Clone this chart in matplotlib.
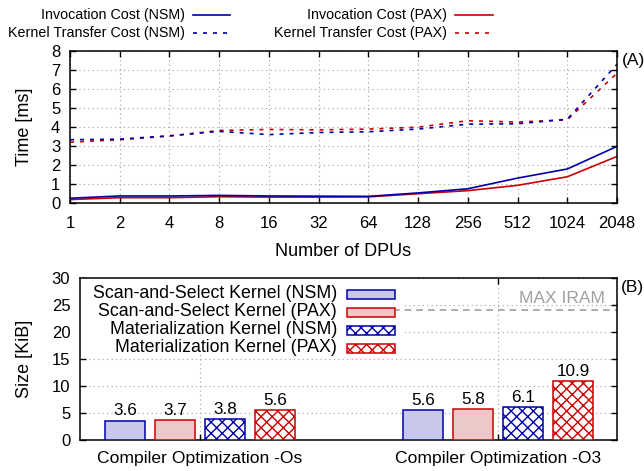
import matplotlib
matplotlib.use("Agg")
import matplotlib.pyplot as plt
from matplotlib import font_manager
from matplotlib.patches import Rectangle
from matplotlib.lines import Line2D
import numpy as np

plt.rcParams['font.family'] = ['Liberation Sans', 'DejaVu Sans']
plt.rcParams['font.size'] = 12.5
plt.rcParams['xtick.labelsize'] = 12
plt.rcParams['ytick.labelsize'] = 12
plt.rcParams['axes.labelsize'] = 13
plt.rcParams['hatch.linewidth'] = 1.0

# ---------------- data ----------------
dpus = [1, 2, 4, 8, 16, 32, 64, 128, 256, 512, 1024, 2048]
dpu_labels = [str(d) for d in dpus]
invocation_nsm = [0.25, 0.37, 0.37, 0.40, 0.37, 0.36, 0.35, 0.53, 0.75, 1.31, 1.79, 2.98]
invocation_pax = [0.18, 0.28, 0.28, 0.33, 0.31, 0.31, 0.32, 0.49, 0.65, 0.93, 1.38, 2.45]
transfer_nsm = [3.33, 3.36, 3.54, 3.77, 3.60, 3.71, 3.75, 3.89, 4.15, 4.17, 4.41, 7.30]
transfer_pax = [3.20, 3.33, 3.52, 3.82, 3.87, 3.85, 3.89, 3.99, 4.33, 4.26, 4.38, 6.83]

groups = ['Compiler Optimization -Os', 'Compiler Optimization -O3']
kernel_names = ['Scan-and-Select Kernel (NSM)', 'Scan-and-Select Kernel (PAX)',
                'Materialization Kernel (NSM)', 'Materialization Kernel (PAX)']
kernel_sizes = [[3.6, 5.6], [3.7, 5.8], [3.8, 6.1], [5.6, 10.9]]
max_iram = 24

BLUE = '#0000aa'
RED = '#cc0000'
GRID = '#a0a0a0'

# narrow font for the top key if available
names = {f.name for f in font_manager.fontManager.ttflist}
if 'Liberation Sans Narrow' in names:
    key_font = dict(family=['Liberation Sans Narrow', 'DejaVu Sans'], size=12.2)
else:
    key_font = dict(family=['Liberation Sans', 'DejaVu Sans'], size=10.3)

fig = plt.figure(figsize=(6.44, 4.71), dpi=100)
W, H = 644, 471

def axes_px(l, t, r, b):
    return fig.add_axes([l / W, 1 - b / H, (r - l) / W, (b - t) / H])

# ---------------- top chart ----------------
ax1 = axes_px(70, 51, 617, 203)
dash = (0, (2.4, 3.6))
ax1.plot(dpus, transfer_pax, color=RED, lw=1.2, ls=dash)
ax1.plot(dpus, transfer_nsm, color=BLUE, lw=1.2, ls=dash)
ax1.plot(dpus, invocation_pax, color=RED, lw=1.2)
ax1.plot(dpus, invocation_nsm, color=BLUE, lw=1.2)
ax1.set_xscale('log', base=2)
ax1.set_xlim(1, 2048)
ax1.set_ylim(0, 8)
ax1.set_xticks(dpus)
ax1.set_xticklabels(dpu_labels)
ax1.minorticks_off()
ax1.set_yticks(range(0, 9))
ax1.grid(True, color=GRID, lw=0.8, ls=(0, (1, 3)))
ax1.tick_params(direction='in', top=True, right=True, length=4.5, width=1)
ax1.tick_params(axis='x', pad=9)
ax1.tick_params(axis='y', pad=7)
ax1.set_ylabel('Time [ms]')
ax1.yaxis.set_label_coords(-0.0676, 0.5)
ax1.set_xlabel('Number of DPUs')
ax1.xaxis.set_label_coords(0.5, -0.262)
for s in ax1.spines.values():
    s.set_linewidth(1.1)
ax1.text(1.008, 0.94, '(A)', transform=ax1.transAxes, ha='left', va='center')

# top legend (gnuplot-style, right-aligned text followed by sample)
leg_entries = [('Invocation Cost (NSM)', BLUE, '-', 185, 193, 230, 15),
               ('Kernel Transfer Cost (NSM)', BLUE, dash, 185, 193, 230, 33),
               ('Invocation Cost (PAX)', RED, '-', 447, 455, 493, 15),
               ('Kernel Transfer Cost (PAX)', RED, dash, 447, 455, 493, 33)]
for label, col, ls, tx, lx0, lx1, ty in leg_entries:
    fig.text(tx / W, 1 - ty / H, label, ha='right', va='center', **key_font)
    fig.add_artist(Line2D([lx0 / W, lx1 / W], [1 - ty / H, 1 - ty / H],
                          color=col, lw=1.2, ls=ls, transform=fig.transFigure))

# ---------------- bottom chart ----------------
ax2 = axes_px(80, 278, 617, 440)
x = np.arange(len(groups))
offsets = [-0.252, -0.084, 0.084, 0.252]
width = 0.134
styles = [dict(facecolor='#c8c8ea', edgecolor=BLUE, hatch=None),
          dict(facecolor='#ecc8c8', edgecolor=RED, hatch=None),
          dict(facecolor='white', edgecolor=BLUE, hatch='xxx'),
          dict(facecolor='white', edgecolor=RED, hatch='xxx')]
for vals, off, st in zip(kernel_sizes, offsets, styles):
    bars = ax2.bar(x + off, vals, width, linewidth=1.1, zorder=3, **st)
    for b, v in zip(bars, vals):
        ax2.annotate(f'{v}', (b.get_x() + b.get_width() / 2, v), xytext=(0, 1.5),
                     textcoords='offset points', ha='center', va='bottom', zorder=4,
                     fontsize=12.3)
ax2.set_xlim(-0.403, 1.40)
ax2.set_ylim(0, 30)
ax2.set_yticks(range(0, 31, 5))
ax2.set_xticks(x)
ax2.set_xticklabels(groups, fontsize=12.6)
ax2.grid(True, color=GRID, lw=0.8, ls=(0, (1, 3)), zorder=0)
ax2.set_axisbelow(True)
ax2.tick_params(direction='in', top=True, right=True, length=4.5, width=1)
ax2.tick_params(axis='x', pad=8)
ax2.tick_params(axis='y', pad=7)
ax2.set_ylabel('Size [KiB]')
ax2.yaxis.set_label_coords(-0.0875, 0.5)
for s in ax2.spines.values():
    s.set_linewidth(1.1)
ax2.text(1.008, 0.944, '(B)', transform=ax2.transAxes, ha='left', va='center')

# MAX IRAM line
ax2.plot([0.53, 1.40], [max_iram, max_iram], color=GRID, lw=1.2, ls=(0, (4, 3)), zorder=2)
ax2.text(1.36, max_iram + 0.9, 'MAX IRAM', color=GRID, ha='right', va='bottom', zorder=2)

# legend box (white background hiding grid)
ax2.add_patch(Rectangle((0.0, 0.55), 0.60, 0.45, transform=ax2.transAxes,
                        facecolor='white', edgecolor='none', zorder=1.5))
rows_y = [294, 312, 330, 348]
for name, st, ry in zip(kernel_names, styles, rows_y):
    yy = 1 - (ry - 278) / 162
    ax2.text((337 - 80) / 537, yy, name, transform=ax2.transAxes, ha='right', va='center',
             zorder=5, fontsize=12.8)
    ax2.add_patch(Rectangle(((347 - 80) / 537, yy - 4.5 / 162), 48 / 537, 9 / 162,
                            transform=ax2.transAxes, linewidth=1.1, zorder=5, **st))

fig.savefig('out.png', dpi=100)
